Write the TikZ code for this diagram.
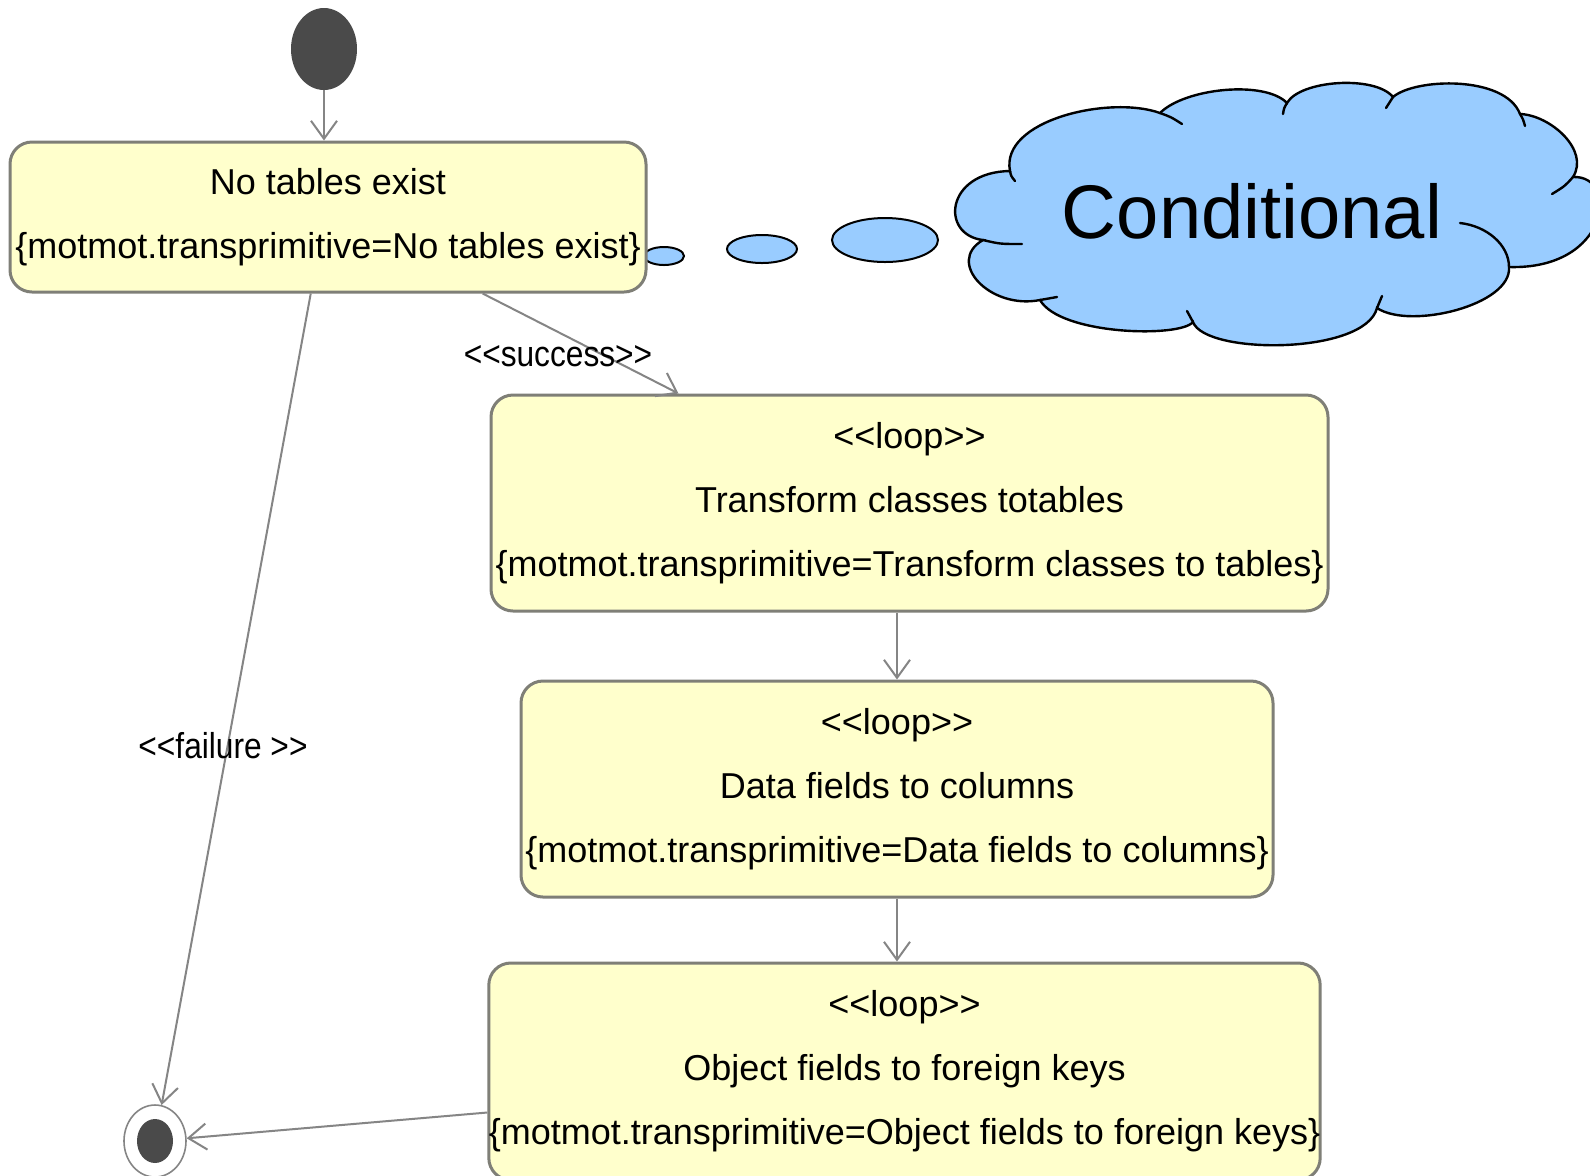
\documentclass[tikz,border=0pt]{standalone}
\usepackage{fontspec}
\setmainfont{Liberation Sans}
\newfontfamily\boxfont{Liberation Sans}
\newfontfamily\labelfont[FakeStretch=0.88]{Liberation Sans}
\usetikzlibrary{arrows.meta,shapes.geometric,calc}
\definecolor{boxfill}{HTML}{FFFFCC}
\definecolor{boxline}{HTML}{7F7F77}
\definecolor{wire}{HTML}{858585}
\definecolor{dot}{HTML}{4A4A4A}
\definecolor{cloudblue}{HTML}{99CCFF}
\begin{document}
\begin{tikzpicture}[x=0.5pt,y=-0.5pt,
  state/.style={draw=boxline, line width=1.5pt, fill=boxfill, rounded corners=11pt,
    align=center, inner sep=0pt, font=\boxfont\fontsize{18}{32}\selectfont},
  flow/.style={draw=wire, line width=1pt,
    -{Straight Barb[length=9pt,width=13pt,line width=1pt]}},
  lbl/.style={font=\labelfont\fontsize{18}{22}\selectfont, inner sep=0pt},
  bubble/.style={ellipse, draw=black, line width=1pt, fill=cloudblue, inner sep=0pt},
  cloudline/.style={draw=black, line width=1.2pt, line cap=round}
]
\clip (0,0) rectangle (1590,1175);
\fill[white] (0,0) rectangle (1590,1175);

% thought cloud: eleven puffs, then the short inner hooks at their joins
\path[cloudline, fill=cloudblue]
  (983,240) .. controls (940,235) and (945,172) .. (1010,171)
            .. controls (1000,120) and (1110,95) .. (1160,113)
            .. controls (1185,88) and (1265,80) .. (1287,103)
            .. controls (1300,80) and (1375,75) .. (1393,97)
            .. controls (1415,78) and (1505,75) .. (1520,114)
            .. controls (1550,115) and (1590,150) .. (1573,177)
            .. controls (1620,175) and (1610,270) .. (1509,267)
            .. controls (1512,305) and (1410,330) .. (1377,308)
            .. controls (1365,355) and (1205,355) .. (1193,322)
            .. controls (1180,338) and (1060,335) .. (1040,300)
            .. controls (990,310) and (945,262) .. (983,240) -- cycle;
\draw[cloudline] (1010,171) .. controls (1011,176) .. (1015,181);
\draw[cloudline] (983,240) .. controls (1000,244) .. (1022,244);
\draw[cloudline] (1040,300) .. controls (1048,299) .. (1057,297);
\draw[cloudline] (1193,322) .. controls (1190,317) .. (1187,311);
\draw[cloudline] (1377,308) .. controls (1380,302) .. (1382,296);
\draw[cloudline] (1509,267) .. controls (1509,245) and (1487,226) .. (1460,223);
\draw[cloudline] (1573,177) .. controls (1565,186) .. (1552,194);
\draw[cloudline] (1520,114) .. controls (1523,119) .. (1525,126);
\draw[cloudline] (1393,97) .. controls (1389,102) .. (1386,108);
\draw[cloudline] (1287,103) .. controls (1284,108) .. (1283,114);
\draw[cloudline] (1160,113) .. controls (1171,117) .. (1182,124);
\node[font=\fontsize{38}{40}\selectfont, inner sep=0pt] (cond) at (1252,211) {Conditional};

% bubbles leading to the cloud
\node[bubble, minimum width=20pt, minimum height=9pt] (b1) at (664,256) {};
\node[bubble, minimum width=35pt, minimum height=14pt] (b2) at (762,249) {};
\node[bubble, minimum width=53pt, minimum height=22pt] (b3) at (885,240) {};

% initial and final states
\node[ellipse, fill=dot, minimum width=33pt, minimum height=41pt, inner sep=0pt] (start) at (324,49) {};
\node[ellipse, draw=wire, line width=0.8pt, fill=white, minimum width=31pt, minimum height=36pt, inner sep=0pt] (endn) at (155,1141) {};
\node[ellipse, fill=dot, minimum width=18pt, minimum height=22pt, inner sep=0pt] (enddot) at (155,1141) {};

% actions
\node[state, minimum width=318pt, minimum height=75pt] (box1) at (328,217)
  {No tables exist\\\{motmot.transprimitive=No tables exist\}};
\node[state, minimum width=418.5pt, minimum height=108pt] (box2) at (909.5,503)
  {<<loop>>\\Transform classes totables\\\{motmot.transprimitive=Transform classes to tables\}};
\node[state, minimum width=376pt, minimum height=108pt] (box3) at (897,789)
  {<<loop>>\\Data fields to columns\\\{motmot.transprimitive=Data fields to columns\}};
\node[state, minimum width=413.5pt, minimum height=108.5pt] (box4) at (904.5,1071.5)
  {<<loop>>\\Object fields to foreign keys\\\{motmot.transprimitive=Object fields to foreign keys\}};

% transitions
\draw[flow] (start) -- (start |- box1.north);
\draw[flow] ($(box1.south west)!0.742!(box1.south east)$) -- ($(box2.north west)!0.225!(box2.north east)$);
\draw[flow] ($(box1.south west)!0.473!(box1.south east)$) -- (endn);
\draw[flow] (box3.north |- box2.south) -- (box3.north);
\draw[flow] (box3.south) -- (box3.south |- box4.north);
\draw[flow] ($(box4.west)+(0,41)$) -- (endn);

\node[lbl] (succ) at (558,356) {<<success>>};
\node[lbl] (fail) at (223,746) {<<failure >>};
\end{tikzpicture}
\end{document}
